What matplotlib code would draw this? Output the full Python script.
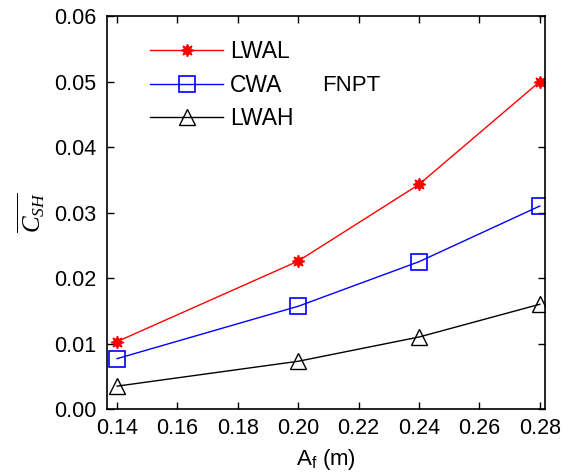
import matplotlib
matplotlib.use('Agg')
import matplotlib.pyplot as plt

plt.rcParams['font.family'] = ['Liberation Sans', 'DejaVu Sans']
plt.rcParams['mathtext.fontset'] = 'custom'
plt.rcParams['mathtext.it'] = 'Liberation Serif:italic'
plt.rcParams['mathtext.rm'] = 'Liberation Sans'

# data
af = [0.14, 0.20, 0.24, 0.28]
lwal = [0.0103, 0.0226, 0.0343, 0.0500]
cwa = [0.0077, 0.0157, 0.0225, 0.0310]
lwah = [0.0035, 0.0073, 0.0110, 0.0160]

fig = plt.figure(figsize=(5.76, 4.74), dpi=100)
ax = fig.add_axes([0.186, 0.137, 0.76, 0.829])

ax.plot(af, lwal, color='red', lw=1, marker=(8, 1, 0), ms=9, mfc='red', mec='red', label='LWAL')
ax.plot(af, cwa, color='blue', lw=1, marker='s', ms=11, mfc='none', mec='blue', mew=1.2, label='CWA')
ax.plot(af, lwah, color='black', lw=1, marker='^', ms=11, mfc='none', mec='black', mew=1.0, label='LWAH')

ax.set_xlim(0.1367, 0.2817)
ax.set_ylim(0, 0.06)
ax.set_xticks([0.14, 0.16, 0.18, 0.20, 0.22, 0.24, 0.26, 0.28])
ax.set_yticks([0, 0.01, 0.02, 0.03, 0.04, 0.05, 0.06])
ax.set_xticklabels(['0.14', '0.16', '0.18', '0.20', '0.22', '0.24', '0.26', '0.28'])
ax.set_yticklabels(['0.00', '0.01', '0.02', '0.03', '0.04', '0.05', '0.06'])
ax.tick_params(direction='in', top=True, right=True, labelsize=15.5, length=5, width=1)
ax.tick_params(axis='x', pad=6.5)
ax.tick_params(axis='y', pad=8)
for s in ax.spines.values():
    s.set_linewidth(1.2)

ax.set_xlabel('A$_{\\mathrm{f}}$ (m)', fontsize=16, labelpad=6)
ax.set_ylabel('$\\overline{C_{SH}}$', fontsize=18, labelpad=5)

ax.legend(loc='upper left', bbox_to_anchor=(0.098, 0.938), frameon=False, fontsize=16.5,
          handlelength=3.2, handletextpad=0.3, labelspacing=0.45, borderaxespad=0,
          borderpad=0)
ax.text(0.491, 0.824, 'FNPT', transform=ax.transAxes, fontsize=16, va='center')

fig.savefig('out.png', dpi=100)
